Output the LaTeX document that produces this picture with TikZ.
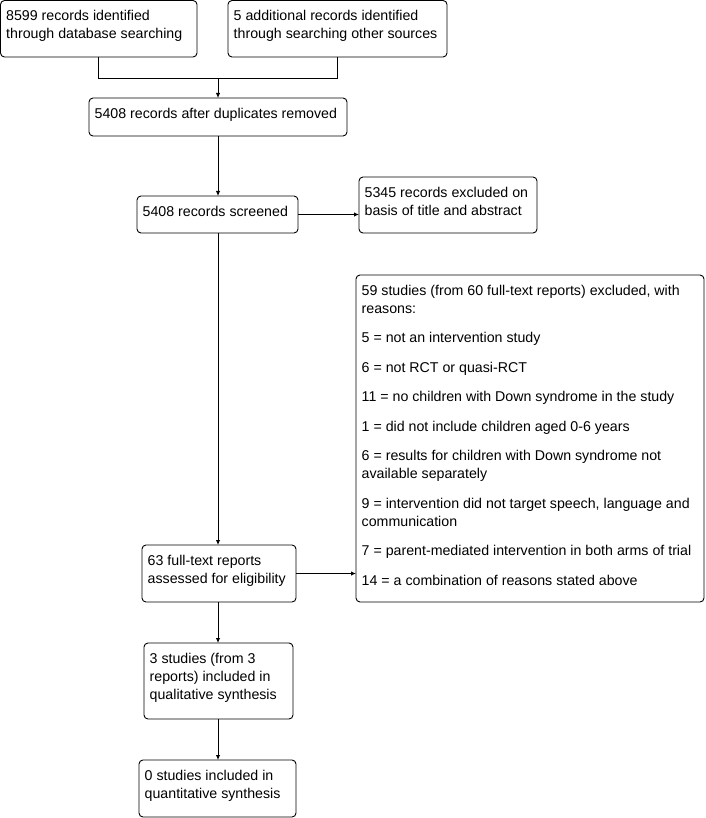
\documentclass[tikz,border=0pt]{standalone}
\usepackage{fontspec}
\setmainfont{Liberation Sans}
\usetikzlibrary{arrows.meta}
\begin{document}
\begin{tikzpicture}[x=1pt,y=-1pt,
  box/.style={draw,line width=0.9pt,rounded corners=4pt,inner sep=0pt,outer sep=0pt},
  txt/.style={anchor=north west,inner sep=0pt,align=left,font=\fontsize{14.2}{18}\selectfont,xshift=5.5pt,yshift=-7.5pt},
  conn/.style={line width=0.9pt},
  arr/.style={line width=0.9pt,-{Latex[length=5pt,width=4.5pt]}}]
\useasboundingbox (0,0) rectangle (705,818);
% boxes: center, width, height
\node[box,minimum width=196.5pt,minimum height=56.5pt] (b1) at (98.75,28.75) {};
\node[box,minimum width=219pt,minimum height=56.5pt] (b2) at (337.5,28.75) {};
\node[box,minimum width=258pt,minimum height=38pt] (b3) at (218,117) {};
\node[box,minimum width=161pt,minimum height=37pt] (b4) at (217.5,214.5) {};
\node[box,minimum width=178pt,minimum height=56pt] (b5) at (448,205) {};
\node[box,minimum width=348pt,minimum height=327pt] (b6) at (530,438.5) {};
\node[box,minimum width=154pt,minimum height=57pt] (b7) at (219,573.5) {};
\node[box,minimum width=149pt,minimum height=76pt] (b8) at (218.5,681) {};
\node[box,minimum width=157pt,minimum height=57pt] (b9) at (217.5,788.5) {};
% texts
\node[txt] (t1) at (b1.north west) {\strut 8599 records identified\\through database searching};
\node[txt] (t2) at (b2.north west) {\strut 5 additional records identified\\through searching other sources};
\node[txt] (t3) at (b3.north west) {\strut 5408 records after duplicates removed};
\node[txt] (t4) at (b4.north west) {\strut 5408 records screened};
\node[txt] (t5) at (b5.north west) {\strut 5345 records excluded on\\basis of title and abstract};
\node[txt] (t6) at (b6.north west) {\strut 59 studies (from 60 full-text reports) excluded, with\\reasons:\\[11.5pt]
5 = not an intervention study\\[11.5pt]
6 = not RCT or quasi-RCT\\[11.5pt]
11 = no children with Down syndrome in the study\\[11.5pt]
1 = did not include children aged 0-6 years\\[11.5pt]
6 = results for children with Down syndrome not\\available separately\\[11.5pt]
9 = intervention did not target speech, language and\\communication\\[11.5pt]
7 = parent-mediated intervention in both arms of trial\\[11.5pt]
14 = a combination of reasons stated above};
\node[txt] (t7) at (b7.north west) {\strut 63 full-text reports\\assessed for eligibility};
\node[txt] (t8) at (b8.north west) {\strut 3 studies (from 3\\reports) included in\\qualitative synthesis};
\node[txt] (t9) at (b9.north west) {\strut 0 studies included in\\quantitative synthesis};
% connectors
\coordinate (m) at (218,78);
\draw[conn] (b1.south) -- (b1.south |- m) -- (b2.south |- m) -- (b2.south);
\draw[arr] (m) -- (m |- b3.north);
\draw[arr] (b3.south) -- (b3.south |- b4.north);
\draw[arr] (b4.east) -- (b4.east -| b5.west);
\draw[arr] (b3.south |- b4.south) -- (b3.south |- b7.north);
\draw[arr] (b7.east) -- (b7.east -| b6.west);
\draw[arr] (b3.south |- b7.south) -- (b3.south |- b8.north);
\draw[arr] (b3.south |- b8.south) -- (b3.south |- b9.north);
\end{tikzpicture}
\end{document}
